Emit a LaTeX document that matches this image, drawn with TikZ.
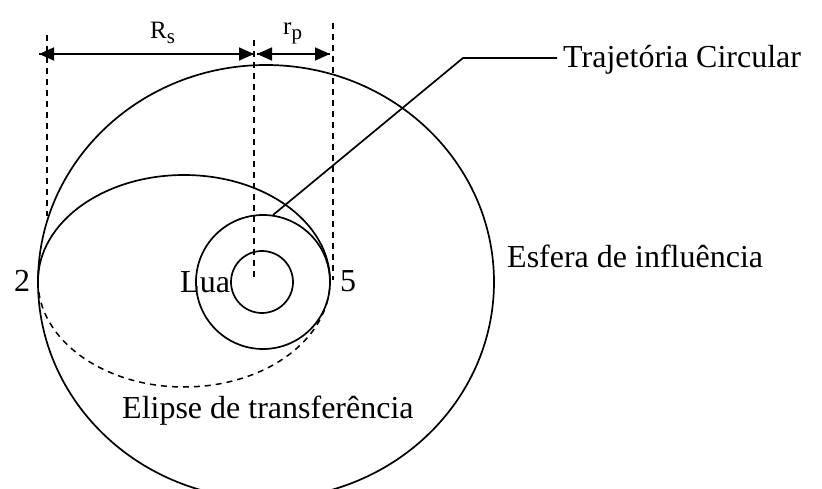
\documentclass[tikz,border=0pt]{standalone}
\usepackage{fontspec}
\setmainfont{Liberation Serif}
\usetikzlibrary{arrows.meta}
\tikzset{
  ln/.style={line width=1.7pt, black},
  dsh/.style={line width=1.5pt, dash pattern=on 6pt off 5pt},
  dimarr/.style={line width=1.7pt, -{Triangle[length=15pt,width=13pt]}},
  lbl/.style={inner sep=0pt, font=\fontsize{32}{38}\selectfont},
  dimlbl/.style={inner sep=0pt, font=\fontsize{25}{30}\selectfont}
}
\newcommand{\mysub}[1]{\raisebox{-4.5pt}{\fontsize{21}{24}\selectfont #1}}
\begin{document}
\begin{tikzpicture}[x=1pt,y=-1pt]
\useasboundingbox (0,0) rectangle (822,489);
% sphere of influence
\draw[ln] (266,282) ellipse [x radius=228, y radius=217];
% transfer ellipse: solid upper half, dashed lower half
\draw[ln] (38,281) arc[start angle=180, end angle=360, x radius=146, y radius=106];
\draw[ln, dsh] (38,281) arc[start angle=180, end angle=0, x radius=146, y radius=106];
% circular trajectory and moon
\draw[ln] (263,282) circle[radius=67];
\draw[ln] (262,282) circle[radius=31];
% dashed verticals
\coordinate (vLt) at (47,35);  \coordinate (vLb) at (47,216);
\coordinate (vMt) at (254,40); \coordinate (vMb) at (254,280);
\coordinate (vRt) at (333,23); \coordinate (vRb) at (333,280);
\draw[dsh] (vLt) -- (vLb);
\draw[dsh] (vMt) -- (vMb);
\draw[dsh] (vRt) -- (vRb);
% dimension arrows
\coordinate (aL) at (39,54); \coordinate (aM1) at (254,54);
\coordinate (aM2) at (257,54); \coordinate (aR) at (330,54);
\draw[dimarr] (aM1) -- (aL);
\draw[dimarr] (aL) -- (aM1);
\draw[dimarr] (aR) -- (aM2);
\draw[dimarr] (aM2) -- (aR);
\node[dimlbl, anchor=base west] (Rs) at (150,39) {R\mysub{s}};
\node[dimlbl, anchor=base west] (rp) at (283,35) {r\mysub{p}};
% labels
\node[lbl, anchor=base west] (tc) at (563,68) {Trajetória Circular};
\coordinate (lk) at (557,58);
\coordinate (bend) at (463,58);
\coordinate (ct) at (273,215);
\draw[ln] (lk) -- (bend) -- (ct);
\node[lbl, anchor=base west] (esf) at (507,268) {Esfera de influência};
\node[lbl, anchor=base west] (eli) at (122,418) {Elipse de transferência};
\node[lbl] (p2) at (22,281) {2};
\node[lbl] (p5) at (348,281) {5};
\node[lbl, anchor=base west] (lua) at (180,292) {Lua};
\end{tikzpicture}
\end{document}
